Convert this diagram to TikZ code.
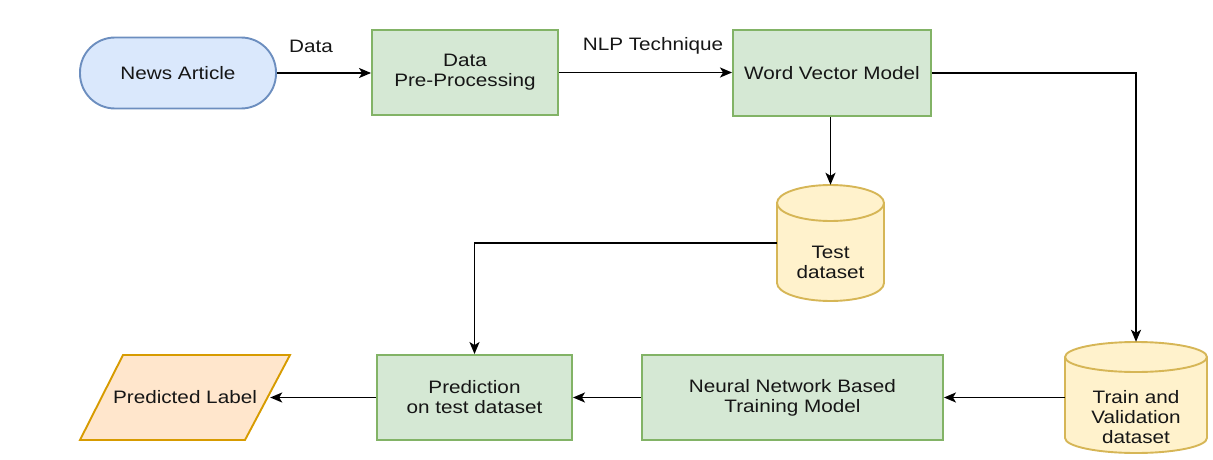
\documentclass[tikz,border=0pt]{standalone}
\usepackage{fontspec}
\setmainfont[FakeStretch=1.15]{Liberation Sans}
\usetikzlibrary{arrows.meta}

\definecolor{blueF}{HTML}{DAE8FC}
\definecolor{blueD}{HTML}{6C8EBF}
\definecolor{greenF}{HTML}{D5E8D4}
\definecolor{greenD}{HTML}{82B366}
\definecolor{yellowF}{HTML}{FFF2CC}
\definecolor{yellowD}{HTML}{D6B656}
\definecolor{orangeF}{HTML}{FFE6CC}
\definecolor{orangeD}{HTML}{D79B00}
\definecolor{txt}{HTML}{161616}

\begin{document}
\begin{tikzpicture}[x=1pt, y=1pt,
  font=\fontsize{18}{20}\selectfont,
  every node/.style={text=txt, align=center, inner sep=0pt},
  proc/.style={rectangle, draw=greenD, fill=greenF, line width=1.9pt},
  term/.style={rectangle, rounded corners=35pt, draw=blueD, fill=blueF, line width=1.9pt},
  dbbox/.style={rectangle, draw=none},
  dbshape/.style={draw=yellowD, fill=yellowF, line width=1.9pt},
  conn/.style={draw=black, line width=1.8pt, -{Stealth[length=12pt, width=10pt, inset=3pt]}}
]
\useasboundingbox (0,0) rectangle (1213,459);

% top row
\node[term, minimum width=196pt, minimum height=71pt] (news) at (178,386) {News Article};
\node[proc, minimum width=186pt, minimum height=85pt] (prep) at (465,386.5) {Data\\Pre-Processing};
\node[proc, minimum width=198pt, minimum height=86pt] (wvm) at (832,386) {Word Vector Model};

% edge captions
\node (cdata) at (311,413) {Data};
\node (cnlp) at (653,413) {NLP Technique};

% test dataset cylinder
\node[dbbox, minimum width=107pt, minimum height=116pt] (test) at (830.5,216) {};
\path[dbshape] (777,256) -- (777,176)
  arc[start angle=180, end angle=360, x radius=53.5, y radius=18]
  -- (884,256)
  arc[start angle=0, end angle=180, x radius=53.5, y radius=18] -- cycle;
\draw[dbshape, fill=none] (777,256) arc[start angle=180, end angle=360, x radius=53.5, y radius=18];
\node (testlbl) at (830.5,197) {Test\\dataset};

% train and validation cylinder
\node[dbbox, minimum width=142pt, minimum height=111pt] (train) at (1136,61.5) {};
\path[dbshape] (1065,102) -- (1065,21)
  arc[start angle=180, end angle=360, x radius=71, y radius=15]
  -- (1207,102)
  arc[start angle=0, end angle=180, x radius=71, y radius=15] -- cycle;
\draw[dbshape, fill=none] (1065,102) arc[start angle=180, end angle=360, x radius=71, y radius=15];
\node (trainlbl) at (1136,42) {Train and\\Validation\\dataset};

% bottom row
\node[proc, minimum width=301pt, minimum height=85pt] (nn) at (792.5,61.5) {Neural Network Based\\Training Model};
\node[proc, minimum width=195pt, minimum height=85pt] (predict) at (474.5,61.5) {Prediction\\on test dataset};
\path[draw=orangeD, fill=orangeF, line width=1.9pt] (80,19) -- (245,19) -- (290,104) -- (123,104) -- cycle;
\node[minimum width=170pt, minimum height=30pt] (label) at (185,61.5) {Predicted Label};

% connectors
\draw[conn] (news.east) -- (news.east -| prep.west);
\draw[conn] (prep.east) -- (prep.east -| wvm.west);
\draw[conn] (wvm.east) -| (train.north);
\draw[conn] (test.north |- wvm.south) -- (test.north);
\draw[conn] (test.west) -| (predict.north);
\draw[conn] (train.west) -- (train.west -| nn.east);
\draw[conn] (nn.west) -- (predict.east);
\draw[conn] (predict.west) -- (label.east);
\end{tikzpicture}
\end{document}
